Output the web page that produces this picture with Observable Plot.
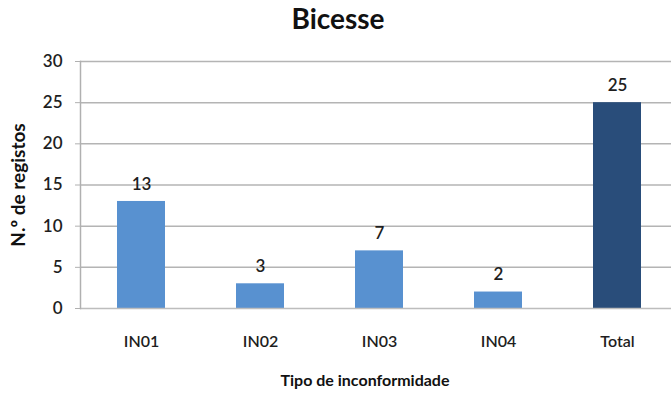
<!DOCTYPE html>
<html>
<head>
<meta charset="utf-8">
<script src="https://cdn.jsdelivr.net/npm/d3@7"></script>
<script src="https://cdn.jsdelivr.net/npm/@observablehq/plot@0.6"></script>
<style>
  html, body { margin: 0; padding: 0; background: #fff; }
  #chart svg { display: block; }
</style>
</head>
<body>
<div id="chart"></div>
<script>
// Non-conformity records at Bicesse, by type
const categories = ["IN01", "IN02", "IN03", "IN04", "Total"];
const counts = [13, 3, 7, 2, 25];
const yTicks = [0, 5, 10, 15, 20, 25, 30];

const data = categories.map((tipo, i) => ({ tipo, n: counts[i], total: tipo === "Total" }));

const chart = Plot.plot({
  width: 671,
  height: 394,
  marginTop: 61,
  marginBottom: 86,
  marginLeft: 80,
  marginRight: 0,
  style: { fontFamily: "Lato, 'Open Sans', sans-serif", fontSize: "16px", color: "#222", background: "#fff" },
  x: { domain: categories, range: [80, 677], paddingInner: 0.597, paddingOuter: 0.302, label: null },
  y: { domain: [0, 30], ticks: yTicks, label: null },
  marks: [
    Plot.ruleY(yTicks.filter(d => d > 0), { stroke: "#b4b4b4", strokeWidth: 1.5 }),
    Plot.barY(data, { x: "tipo", y: "n", fill: d => d.total ? "#294d7a" : "#5891d0" }),
    Plot.ruleY([0], { stroke: "#bdbdbd", strokeWidth: 1.5 }),
    Plot.frame({ anchor: "left", stroke: "#b0b0b0", strokeWidth: 1.5 }),
    Plot.axisY({ ticks: yTicks, tickSize: 5, tickPadding: 13, stroke: "#b0b0b0", fill: "#1e1e1e", fontSize: 17, fontWeight: 600, label: null }),
    Plot.axisX({ tickSize: 0, tickPadding: 27, fill: "#1e1e1e", fontSize: 16, fontWeight: 600, label: null }),
    Plot.text(data, { x: "tipo", y: "n", text: d => String(d.n), dy: -17, fontSize: 17, fontWeight: 600, fill: "#1e1e1e" }),
    Plot.text(["Bicesse"], { frameAnchor: "top", text: d => d, textAnchor: "middle", lineAnchor: "middle", dx: -38, dy: -41, fontSize: 28, fontWeight: "bold", fill: "#111" }),
    Plot.text(["Tipo de inconformidade"], { frameAnchor: "bottom", text: d => d, textAnchor: "middle", lineAnchor: "middle", dx: -11, dy: 72, fontSize: 16, fontWeight: "bold", fill: "#111" }),
    Plot.text(["N.º de registos"], { frameAnchor: "left", text: d => d, textAnchor: "middle", lineAnchor: "middle", dx: -62, rotate: -90, fontSize: 19, fontWeight: "bold", fill: "#111" })
  ]
});

document.getElementById("chart").appendChild(chart);
</script>
</body>
</html>
